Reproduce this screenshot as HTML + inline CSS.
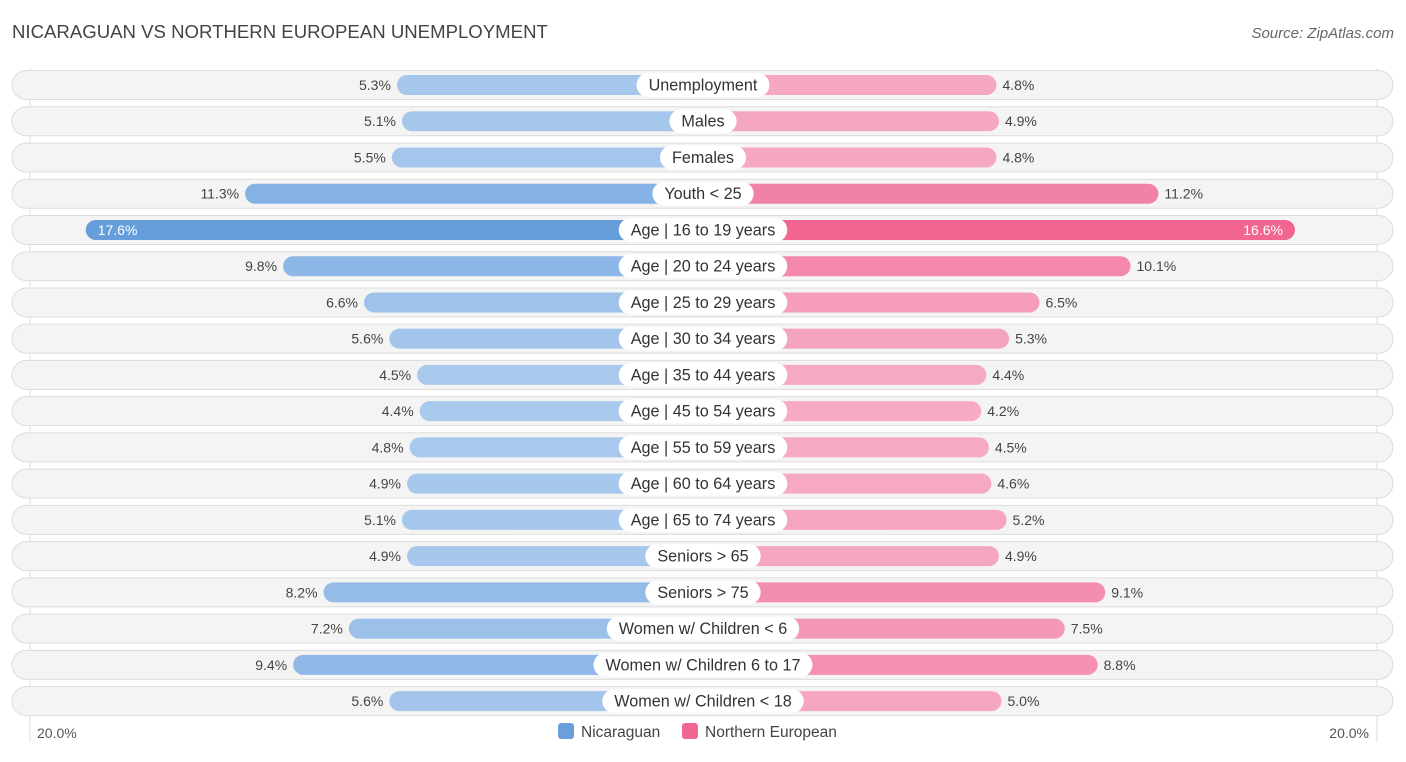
<!DOCTYPE html>
<html><head><meta charset="utf-8"><style>
body{margin:0;background:#fff;font-family:"Liberation Sans",sans-serif;}
svg text{font-family:"Liberation Sans",sans-serif;}
</style></head><body>
<svg id="c" width="1406" height="757">
<text x="12" y="38" font-size="18.6" fill="#444">NICARAGUAN VS NORTHERN EUROPEAN UNEMPLOYMENT</text>
<text x="1394" y="38" font-size="15" fill="#666" text-anchor="end" font-style="italic">Source: ZipAtlas.com</text>
<line x1="30" y1="68" x2="30" y2="742" stroke="#ddd"/>
<line x1="1377" y1="68" x2="1377" y2="742" stroke="#ddd"/>
<g id="rows"></g>
<text x="37" y="738" font-size="14" fill="#555">20.0%</text>
<text x="1369" y="738" font-size="14" fill="#555" text-anchor="end">20.0%</text>
<g>
<rect x="558" y="723" width="16" height="16" rx="3" fill="#6a9fdc"/>
<text x="581" y="737" font-size="15.5" fill="#444">Nicaraguan</text>
<rect x="682" y="723" width="16" height="16" rx="3" fill="#f06892"/>
<text x="705" y="737" font-size="15.5" fill="#444">Northern European</text>
</g>
</svg>
<script>
const categories=["Unemployment","Males","Females","Youth < 25","Age | 16 to 19 years","Age | 20 to 24 years","Age | 25 to 29 years","Age | 30 to 34 years","Age | 35 to 44 years","Age | 45 to 54 years","Age | 55 to 59 years","Age | 60 to 64 years","Age | 65 to 74 years","Seniors > 65","Seniors > 75","Women w/ Children < 6","Women w/ Children 6 to 17","Women w/ Children < 18"];
const nicaraguan=[5.3,5.1,5.5,11.3,17.6,9.8,6.6,5.6,4.5,4.4,4.8,4.9,5.1,4.9,8.2,7.2,9.4,5.6];
const northernEuropean=[4.8,4.9,4.8,11.2,16.6,10.1,6.5,5.3,4.4,4.2,4.5,4.6,5.2,4.9,9.1,7.5,8.8,5.0];
const cx=703, off=172, k=25.3, y0=85, dy=36.24;
const w=v=>off+k*v;
const ns="http://www.w3.org/2000/svg";
const g=document.getElementById('rows');
function mk(t,a){const e=document.createElementNS(ns,t);for(const x in a)e.setAttribute(x,a[x]);g.appendChild(e);return e;}
function mix(a,b,t){return 'rgb('+a.map((v,i)=>Math.round(v+(b[i]-v)*t)).join(',')+')';}
const bl=[172,203,238],bs=[102,158,220],pl=[246,172,196],ps=[240,102,145];
categories.forEach((c,i)=>{
 const y=y0+i*dy;
 const bg=mk('rect',{x:12,y:y-14.5,width:1381,height:29,rx:14.5,fill:'#f4f4f4',stroke:'#dcdcdc'});
 
 const a=nicaraguan[i],b=northernEuropean[i];
 const ta=Math.min(1,Math.max(0,(a-4)/13)),tb=Math.min(1,Math.max(0,(b-4)/12));
 const r1=mk('rect',{x:cx-w(a),y:y-10,width:w(a),height:20,rx:10,fill:mix(bl,bs,ta)});
 
 const r2=mk('rect',{x:cx,y:y-10,width:w(b),height:20,rx:10,fill:mix(pl,ps,tb)});
 
 const inA=a>15,inB=b>15;
 const t1=mk('text',{x:inA?cx-w(a)+12:cx-w(a)-6,y:y+5,'font-size':14,fill:inA?'#fff':'#444','text-anchor':inA?'start':'end'});
 t1.textContent=a.toFixed(1)+'%';
 const t2=mk('text',{x:inB?cx+w(b)-12:cx+w(b)+6,y:y+5,'font-size':14,fill:inB?'#fff':'#444','text-anchor':inB?'end':'start'});
 t2.textContent=b.toFixed(1)+'%';
 const lbl=mk('text',{x:cx,y:y+5.5,'font-size':16.2,fill:'#333','text-anchor':'middle'});
 lbl.textContent=c;
 const tw=lbl.getComputedTextLength()+24;
 const pill=document.createElementNS(ns,'rect');
 pill.setAttribute('x',cx-tw/2);pill.setAttribute('y',y-12);pill.setAttribute('width',tw);pill.setAttribute('height',24);pill.setAttribute('rx',12);pill.setAttribute('fill','#fff');
 
 
 g.insertBefore(pill,lbl);
 
 
});
</script>
</body></html>
